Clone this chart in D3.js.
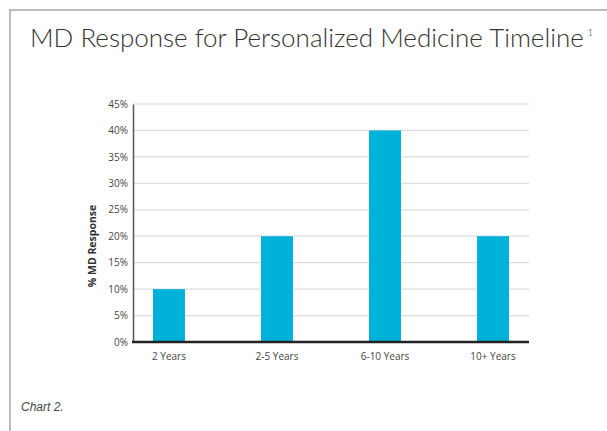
<!DOCTYPE html>
<html>
<head>
<meta charset="utf-8">
<script src="https://cdn.jsdelivr.net/npm/d3@7"></script>
<style>
  body { margin: 0; background: #fff; }
  svg { display: block; }
</style>
</head>
<body>
<div id="chart"></div>
<script>
var categories = ['2 Years', '2-5 Years', '6-10 Years', '10+ Years'];
var values = [10, 20, 40, 20];
var yTicks = [0, 5, 10, 15, 20, 25, 30, 35, 40, 45];

var width = 607, height = 431;
var svg = d3.select('#chart').append('svg')
    .attr('width', width)
    .attr('height', height);

// frame (open at right and bottom)
svg.append('path')
    .attr('d', 'M10,' + height + 'V10H' + width)
    .attr('fill', 'none')
    .attr('stroke', '#bdbdbd')
    .attr('stroke-width', 2);

// title - size it so it spans ~554px like the original
var title = svg.append('text')
    .attr('x', 30)
    .attr('y', 47)
    .attr('font-family', 'Lato, "Open Sans", sans-serif')
    .attr('font-weight', 300)
    .attr('font-size', 27)
    .attr('fill', '#333')
    .text('MD Response for Personalized Medicine Timeline');
var natural = title.node().getComputedTextLength();
var titleSize = Math.min(27, 27 * 554 / natural);
title.attr('font-size', titleSize);
var titleEnd = 30 + title.node().getComputedTextLength();
svg.append('text')
    .attr('x', titleEnd + 4)
    .attr('y', 36)
    .attr('font-family', 'Lato, sans-serif')
    .attr('font-weight', 300)
    .attr('font-size', 9)
    .attr('fill', '#333')
    .text('1');

var x0 = 133, x1 = 529, yTop = 104, yBase = 342;

var x = d3.scaleBand()
    .domain(categories)
    .range([x0, x1])
    .paddingInner(0.704)
    .paddingOuter(0.185);

var y = d3.scaleLinear()
    .domain([0, 45])
    .range([yBase, yTop]);

// gridlines
svg.append('g')
    .selectAll('line')
    .data(yTicks.filter(function(d) { return d > 0; }))
    .join('line')
    .attr('x1', x0)
    .attr('x2', x1)
    .attr('y1', function(d) { return y(d); })
    .attr('y2', function(d) { return y(d); })
    .attr('stroke', '#dcdcdc')
    .attr('stroke-width', 1.2);

// bars
svg.append('g')
    .selectAll('rect')
    .data(values)
    .join('rect')
    .attr('x', function(d, i) { return x(categories[i]); })
    .attr('y', function(d) { return y(d); })
    .attr('width', x.bandwidth())
    .attr('height', function(d) { return yBase - y(d); })
    .attr('fill', '#00b1d9');

// y axis
var yAxis = d3.axisLeft(y)
    .tickValues(yTicks)
    .tickSize(0)
    .tickPadding(5)
    .tickFormat(function(d) { return d + '%'; });
var gy = svg.append('g')
    .attr('transform', 'translate(' + x0 + ',0)')
    .call(yAxis);
gy.select('.domain')
    .attr('stroke', '#555')
    .attr('stroke-width', 1.5);
gy.selectAll('text')
    .attr('font-family', '"Open Sans", sans-serif')
    .attr('font-size', 10)
    .attr('fill', '#444');

// x axis
var xAxis = d3.axisBottom(x).tickSize(0).tickPadding(11);
var gx = svg.append('g')
    .attr('transform', 'translate(0,' + yBase + ')')
    .call(xAxis);
gx.select('.domain').remove();
gx.selectAll('text')
    .attr('font-family', '"Open Sans", sans-serif')
    .attr('font-size', 10)
    .attr('fill', '#444');

// baseline
svg.append('line')
    .attr('x1', x0 - 1)
    .attr('x2', x1)
    .attr('y1', yBase)
    .attr('y2', yBase)
    .attr('stroke', '#222')
    .attr('stroke-width', 2.5);

// y axis label
svg.append('text')
    .attr('transform', 'translate(96,246) rotate(-90)')
    .attr('text-anchor', 'middle')
    .attr('font-family', '"Open Sans", sans-serif')
    .attr('font-weight', 700)
    .attr('font-size', 10.5)
    .attr('fill', '#333')
    .text('% MD Response');

// caption
svg.append('text')
    .attr('x', 21)
    .attr('y', 411)
    .attr('font-family', '"Liberation Sans", Arial, sans-serif')
    .attr('font-style', 'italic')
    .attr('font-size', 12)
    .attr('fill', '#444')
    .text('Chart 2.');
</script>
</body>
</html>
